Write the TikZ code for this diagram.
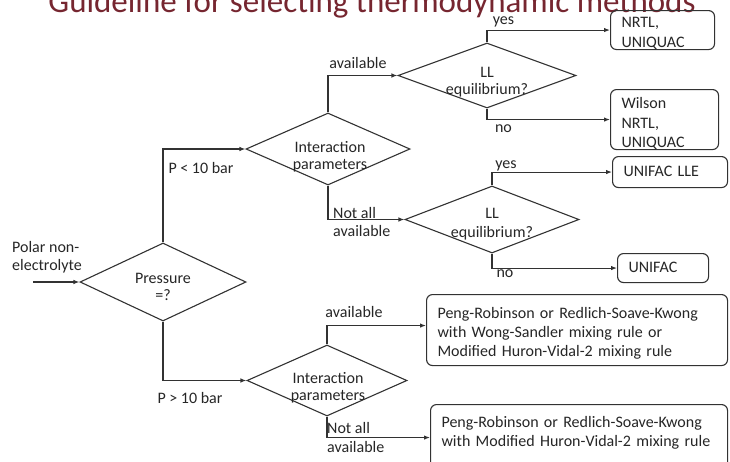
\documentclass[tikz,border=0pt]{standalone}
\usepackage{fontspec}
\setmainfont{Carlito}
\usetikzlibrary{shapes.geometric,arrows.meta}
\definecolor{ln}{RGB}{50,50,50}
\definecolor{tx}{RGB}{38,38,38}
\definecolor{ttl}{RGB}{118,38,48}
\begin{document}
\begin{tikzpicture}[x=1pt,y=-1pt,
  line/.style={draw=ln, line width=1.1pt},
  arr/.style={line, -{Latex[length=6pt,width=4.5pt]}},
  dia/.style={draw=ln, line width=1.1pt, diamond, inner sep=0pt},
  txt/.style={text=tx, font=\fontsize{16}{17}\selectfont, align=center, inner sep=0pt, anchor=base},
  lbl/.style={text=tx, font=\fontsize{16}{18}\selectfont, align=left, inner sep=0pt, anchor=base west},
  box/.style={draw=ln, line width=1.1pt, rounded corners=6pt, text=tx, font=\fontsize{16}{19.5}\selectfont, align=left, inner xsep=11pt, inner ysep=0pt, anchor=north west},
]
\clip (0,0) rectangle (730,461);
\fill[white] (0,0) rectangle (730,461);

% title (cut at the top)
\node[anchor=base, inner sep=0pt, text=ttl, font=\fontsize{33}{36}\selectfont] (title) at (372,12.7) {Guideline for selecting thermodynamic methods};

% decision diamonds
\node[dia, minimum width=166pt, minimum height=78pt] (p) at (163,282) {};
\node[dia, minimum width=164pt, minimum height=72pt] (ip1) at (328,149) {};
\node[dia, minimum width=178pt, minimum height=65pt] (ll1) at (487,75.5) {};
\node[dia, minimum width=174pt, minimum height=67pt] (ll2) at (492,219.5) {};
\node[dia, minimum width=160pt, minimum height=71pt] (ip2) at (327,380.5) {};

% diamond texts (anchor base = last line)
\node[txt] (tp) at (163,300) {Pressure\\=?};
\node[txt] (tip1) at (330,169) {Interaction\\parameters};
\node[txt] (tll1) at (487,94) {LL\\equilibrium?};
\node[txt, font=\fontsize{16}{19}\selectfont] (tll2) at (492,237) {LL\\equilibrium?};
\node[txt] (tip2) at (328,400) {Interaction\\parameters};

% result boxes
\node[box, text width=82pt, text height=17pt, text depth=22pt] (nrtl) at (610,10) {NRTL,\\UNIQUAC};
\node[box, text width=86pt, text height=19pt, text depth=41pt] (wil) at (610,89) {Wilson\\NRTL,\\UNIQUAC};
\node[box, text width=93pt, text height=20pt, text depth=11pt] (ulle) at (612,156) {UNIFAC LLE};
\node[box, text width=69pt, text height=19pt, text depth=10pt] (unif) at (617,253) {UNIFAC};
\node[box, text width=279pt, text height=24pt, text depth=47pt, font=\fontsize{16}{19}\selectfont] (pr1) at (426,294) {Peng-Robinson or Redlich-Soave-Kwong\\with Wong-Sandler mixing rule or\\Modified Huron-Vidal-2 mixing rule};
\node[box, text width=275pt, text height=23pt, text depth=43pt, font=\fontsize{16}{19}\selectfont] (pr2) at (430,404) {Peng-Robinson or Redlich-Soave-Kwong\\with Modified Huron-Vidal-2 mixing rule};

% input
\coordinate (in) at (33,282);
\node[lbl] (polar) at (12,270) {Polar non-\\electrolyte};
\draw[arr] (in) -- (p.west);

% connectors
\draw[arr] (p.north) |- (ip1.west);
\draw[arr] (p.south) |- (ip2.west);
\draw[arr] (ip1.north) |- (ll1.west);
\draw[arr] (ip1.south) |- (ll2.west);
\draw[arr] (ll1.north) |- (nrtl.west);
\draw[arr] (ll1.south) |- (wil.west);
\draw[arr] (ll2.north) |- (ulle.west);
\draw[arr] (ll2.south) |- (unif.west);
\draw[arr] (ip2.north) |- ([yshift=4.5pt]pr1.west);
\draw[arr] (ip2.south) |- (pr2.west);

% branch labels
\node[txt] (lt) at (201,173) {P < 10 bar};
\node[txt] (gt) at (190,403) {P > 10 bar};
\node[txt] (av1) at (358,68) {available};
\node[lbl] (na1) at (333,236) {Not all\\available};
\node[txt] (y1) at (503.5,24) {yes};
\node[txt] (n1) at (503.5,132) {no};
\node[txt] (y2) at (506,168) {yes};
\node[txt] (n2) at (505,277) {no};
\node[txt] (av2) at (354,317) {available};
\node[lbl, font=\fontsize{16}{19}\selectfont] (na2) at (327,452) {Not all\\available};
\end{tikzpicture}
\end{document}
